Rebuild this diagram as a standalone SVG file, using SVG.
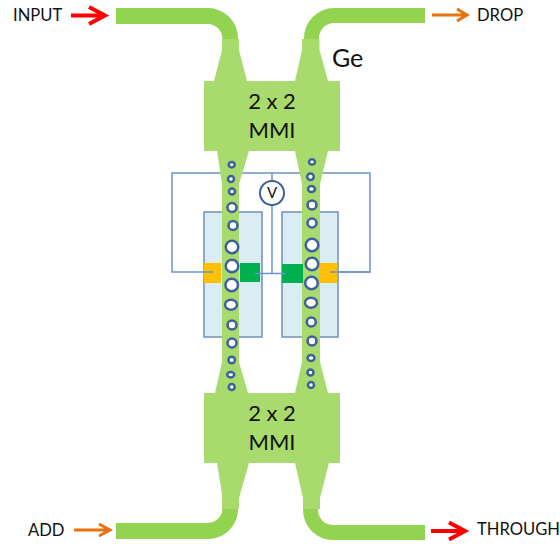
<svg xmlns="http://www.w3.org/2000/svg" width="560" height="544" viewBox="0 0 560 544">
<style>
text{font-family:"Lato","Carlito","Open Sans",sans-serif;fill:#111}
.lab{font-size:16.600px}
.mmi{font-size:22px;text-anchor:middle}
.wg{fill:#92D34F}
.mm{fill:#A8DA6E}
.box{fill:#DAEDF3;stroke:#6F8FBC;stroke-width:1.5}
.wire{fill:none;stroke:#6A94CB;stroke-width:1.5}
.hole{fill:#fff;stroke:#3F6199;stroke-width:2.500}
.yel{fill:#FFC000}
.grn{fill:#00B050}
.red{fill:none;stroke:#F00;stroke-width:4}
.org{fill:none;stroke:#E8700F;stroke-width:3}
</style>
<g id="electrode-left"><rect class="box" x="204" y="212" width="58" height="125"/></g>
<g id="electrode-right"><rect class="box" x="282" y="212" width="56" height="125"/></g>
<g id="connectors">
<path class="wire" d="M213 272H172V173H370V272H330"/>
<path class="wire" d="M272 173V181M272 205V273M255 273.500H285"/>
<path class="red" d="M71 15.500H104M89 7L105 15.500L89 24"/>
<path class="org" d="M432 15H466M457 9L467 15L457 21"/>
<path class="org" d="M74 530H109M99 524L110 530L99 536"/>
<path class="red" d="M431 531H464M449 522.500L465 531L449 539.500"/>
</g>
<g id="mzi-arms">
<path class="mm" d="M222 180H239V365H222Z"/>
<path class="mm" d="M302 180H320V365H302Z"/>
</g>
<g id="pads">
<rect class="yel" x="204" y="263" width="17" height="20"/>
<rect class="grn" x="240" y="263" width="20" height="19"/>
<rect class="grn" x="282" y="264" width="21" height="19"/>
<rect class="yel" x="320" y="263" width="17" height="20"/>
<path class="wire" d="M204 272H213M330 272H370M255 273.500H260M282 273.500H285"/>
</g>
<g id="mmi-top">
<path class="mm" d="M204 81H214L222 50V39H239V50L247 81H295L302 50V39H319.500V50L328 81H340V151H328L320 184H302L295 151H249L239 184H222L217 151H204Z"/>
<text class="mmi" x="272" y="109">2 x 2</text>
<text class="mmi" x="272" y="138">MMI</text>
</g>
<g id="mmi-bottom">
<path class="mm" d="M204 393H215L222 362H239V362L248 393H295L302 362H320L328 393H340V463H329L320 498V509H303V498L295 463H249L239 498V509H222V494L217 463H204Z"/>
<text class="mmi" x="272" y="421">2 x 2</text>
<text class="mmi" x="272" y="450">MMI</text>
</g>
<g id="waveguides">
<path class="wg" d="M116 8H208A30 30 0 0 1 238 39H222.500A15 15 0 0 0 208 24H116Z"/>
<path class="wg" d="M425 8H334A30 30 0 0 0 304 39H319A15 15 0 0 1 334 23H425Z"/>
<path class="wg" d="M116 539H208A30 30 0 0 0 238 509H222.500A15 15 0 0 1 208 523H116Z"/>
<path class="wg" d="M425 540H334A30 30 0 0 1 303 509H318A15 15 0 0 0 334 525H425Z"/>
</g>
<g id="holes-left">
<ellipse class="hole" cx="231.700" cy="164.700" rx="3" ry="2.700"/>
<circle class="hole" cx="231" cy="179" r="3"/>
<circle class="hole" cx="232" cy="191.500" r="3"/>
<circle class="hole" cx="232" cy="207.500" r="4.500"/>
<circle class="hole" cx="233" cy="225.500" r="4.500"/>
<circle class="hole" cx="232" cy="247" r="6.300"/>
<circle class="hole" cx="232" cy="266" r="6.300"/>
<circle class="hole" cx="231.700" cy="285" r="6.300"/>
<ellipse class="hole" cx="231" cy="304.700" rx="6" ry="5"/>
<circle class="hole" cx="232" cy="325" r="4.500"/>
<circle class="hole" cx="232" cy="343" r="4.500"/>
<circle class="hole" cx="231.700" cy="360" r="3.300"/>
<ellipse class="hole" cx="230.700" cy="374.700" rx="3.500" ry="2.700"/>
<circle class="hole" cx="231.700" cy="387" r="3"/>
</g>
<g id="holes-right">
<ellipse class="hole" cx="312" cy="162" rx="3" ry="2.700"/>
<circle class="hole" cx="310.500" cy="176.700" r="3.300"/>
<ellipse class="hole" cx="311.500" cy="189" rx="3.500" ry="3"/>
<circle class="hole" cx="312" cy="205" r="4.500"/>
<circle class="hole" cx="312" cy="223" r="4.500"/>
<circle class="hole" cx="312" cy="245" r="6.300"/>
<circle class="hole" cx="312" cy="264" r="6.300"/>
<circle class="hole" cx="311.500" cy="283" r="6.300"/>
<ellipse class="hole" cx="311" cy="302.700" rx="6" ry="5"/>
<circle class="hole" cx="311.300" cy="322" r="4.500"/>
<circle class="hole" cx="312" cy="341" r="4.500"/>
<ellipse class="hole" cx="311" cy="358" rx="3.500" ry="3"/>
<circle class="hole" cx="310.500" cy="372.500" r="3"/>
<circle class="hole" cx="311" cy="385" r="3"/>
</g>
<g id="voltmeter">
<circle cx="272" cy="193" r="12" fill="#fff" stroke="#3F6199" stroke-width="2"/>
<text x="272" y="198" font-size="15" text-anchor="middle">V</text>
</g>
<g id="labels">
<text class="lab" x="13" y="21">INPUT</text>
<text class="lab" x="477" y="21">DROP</text>
<text class="lab" x="28" y="536">ADD</text>
<text class="lab" x="477" y="535">THROUGH</text>
<text x="332" y="67" font-size="25">Ge</text>
</g>
</svg>
